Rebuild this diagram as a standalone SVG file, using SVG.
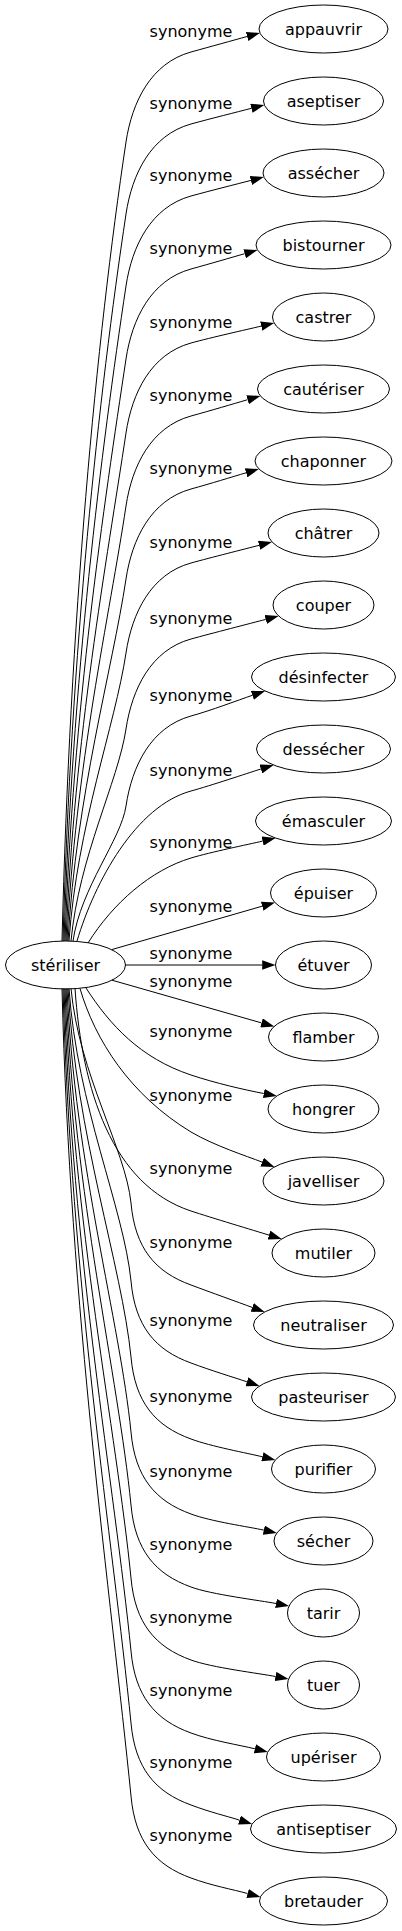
<svg xmlns="http://www.w3.org/2000/svg" width="402" height="1931" viewBox="0 0 402 1931">
<style>
text{font-family:"DejaVu Sans",sans-serif;font-size:16px;text-anchor:middle;fill:#000}
.node ellipse{fill:none;stroke:#000;stroke-width:1}
.edges path{fill:none;stroke:#000;stroke-width:1;marker-end:url(#ah)}
</style>
<defs>
<marker id="ah" viewBox="0 0 13.3 9.4" refX="0" refY="4.7" markerWidth="13.3" markerHeight="9.4" markerUnits="userSpaceOnUse" orient="auto"><path d="M0,0 L13.3,4.7 L0,9.4 Z" fill="#000"/></marker>
</defs>
<rect width="402" height="1931" fill="#fff"/>
<g class="edges" id="edges">
<path d="M62,941 C70,621.4 96,341.8 126,142 C132,102 151,63 191,52 C211,46.5 232.6,40.5 247.1,36.5"/>
<path d="M63,941 C71,650.2 98.7,395.8 126,214 C132,174 151,135 191,124 C211,118.5 236.9,112.1 251.4,108.3"/>
<path d="M64,941 C72,679 101.4,449.8 126,286 C132,246 151,207 191,196 C211,190.5 236.4,184.2 250.9,180.4"/>
<path d="M65,941 C73,708.2 104.2,504.5 126,359 C132,319 151,280 191,269 C211,263.5 230.3,257.8 244.7,253.7"/>
<path d="M66,941 C74,737.8 107,560 126,433 C132,393 151,354 191,343 C211,337.5 246.6,329.6 261.2,326.1"/>
<path d="M67,941 C75,767 109.7,614.8 126,506 C132,466 151,427 191,416 C211,410.5 233.2,403.9 247.6,399.7"/>
<path d="M68,941 C76,796.2 112.4,669.5 126,579 C132,539 151,500 191,489 C211,483.5 231.7,477 246.1,472.8"/>
<path d="M69,941 C77,825.8 115.2,725 126,653 C132,613 151,574 191,563 C211,557.5 244.6,549.1 259.1,545.3"/>
<path d="M71,941 C79,856.2 118,782 126,729 C132,689 151,650 191,639 C211,633.5 251.2,623.2 265.7,619.4"/>
<path d="M73,941 C81,887 121,839.8 126,806 C132,766 151,727 191,716 C211,710.5 238.2,700.1 252.4,695.3"/>
<path d="M77,941 C95,881 136,806 191,791 C211,785.5 246.6,773.5 260.9,769"/>
<path d="M88,943 C113,903 151,870 191,858 C211,852 248,844.5 262.6,841.1"/>
<path d="M112,949.5 L262.2,906.2"/>
<path d="M125.5,965 L262.2,965"/>
<path d="M112,980.2 L261.5,1022.9"/>
<path d="M86,988 C110,1025 140,1058 191,1075 C215,1083 245,1090 263.8,1093.5"/>
<path d="M80,988.5 C95,1040 130,1095 191,1132 C215,1146 246,1155.8 262.1,1162.1"/>
<path d="M75,988.5 C82,1090 112,1185 191,1211 C211,1217.6 254.7,1230.7 269,1235.1"/>
<path d="M71,988.5 C79,1074.3 125.6,1149.4 131,1203 C135,1248 155,1272 191,1285 C211,1292.5 238.1,1302.2 252.2,1307.4"/>
<path d="M69,988.5 C77,1105.5 123.7,1207.9 131,1281 C135,1326 155,1350 191,1363 C211,1370.5 232.7,1377 246.9,1381.8"/>
<path d="M68,988.5 C76,1135.9 121.8,1264.9 131,1357 C135,1402 155,1426 191,1439 C211,1446.5 247.9,1453.2 262.4,1456.8"/>
<path d="M67,988.5 C75,1165.9 119.9,1321.1 131,1432 C135,1477 155,1501 191,1514 C211,1521.5 249.2,1526.9 263.8,1530.1"/>
<path d="M66,988.5 C74,1195.1 118.1,1375.9 131,1505 C135,1550 155,1574 191,1587 C211,1594.5 261.3,1600.6 276,1603.5"/>
<path d="M65,988.5 C73,1224.3 116.3,1430.6 131,1578 C135,1623 155,1647 191,1660 C211,1667.5 260.8,1673.6 275.5,1676.5"/>
<path d="M64,988.5 C72,1253.5 114.4,1485.4 131,1651 C135,1696 155,1720 191,1733 C211,1740.5 240.3,1745.2 254.9,1748.8"/>
<path d="M63,988.5 C71,1282.3 112.6,1539.4 131,1723 C135,1768 155,1792 191,1805 C211,1812.5 225.1,1815.6 239.4,1820.1"/>
<path d="M62,988.5 C70,1311.5 110.8,1594.1 131,1796 C135,1841 155,1865 191,1878 C211,1885.5 233.1,1889.5 247.6,1893.5"/>
<text x="191" y="36.5">synonyme</text>
<text x="191" y="108.5">synonyme</text>
<text x="191" y="180.5">synonyme</text>
<text x="191" y="253.5">synonyme</text>
<text x="191" y="327.5">synonyme</text>
<text x="191" y="400.5">synonyme</text>
<text x="191" y="473.5">synonyme</text>
<text x="191" y="547.5">synonyme</text>
<text x="191" y="623.5">synonyme</text>
<text x="191" y="700.5">synonyme</text>
<text x="191" y="775.5">synonyme</text>
<text x="191" y="847.5">synonyme</text>
<text x="191" y="911.5">synonyme</text>
<text x="191" y="958.5">synonyme</text>
<text x="191" y="986.5">synonyme</text>
<text x="191" y="1036.5">synonyme</text>
<text x="191" y="1100.5">synonyme</text>
<text x="191" y="1173.5">synonyme</text>
<text x="191" y="1247.5">synonyme</text>
<text x="191" y="1325.5">synonyme</text>
<text x="191" y="1401.5">synonyme</text>
<text x="191" y="1476.5">synonyme</text>
<text x="191" y="1549.5">synonyme</text>
<text x="191" y="1622.5">synonyme</text>
<text x="191" y="1695.5">synonyme</text>
<text x="191" y="1767.5">synonyme</text>
<text x="191" y="1840.5">synonyme</text>
</g>
<g class="node" id="n-steriliser"><ellipse cx="65.5" cy="965" rx="60" ry="24"/><text x="65.5" y="970.5">stériliser</text></g>
<g class="node" id="n0"><ellipse cx="323.5" cy="29" rx="64.5" ry="24"/><text x="323.5" y="34.5">appauvrir</text></g>
<g class="node" id="n1"><ellipse cx="323.5" cy="101" rx="60" ry="24"/><text x="323.5" y="106.5">aseptiser</text></g>
<g class="node" id="n2"><ellipse cx="323.5" cy="173" rx="60.5" ry="24"/><text x="323.5" y="178.5">assécher</text></g>
<g class="node" id="n3"><ellipse cx="323.5" cy="245" rx="67.5" ry="24"/><text x="323.5" y="250.5">bistourner</text></g>
<g class="node" id="n4"><ellipse cx="323.5" cy="317" rx="51" ry="24"/><text x="323.5" y="322.5">castrer</text></g>
<g class="node" id="n5"><ellipse cx="323.5" cy="389" rx="66" ry="24"/><text x="323.5" y="394.5">cautériser</text></g>
<g class="node" id="n6"><ellipse cx="323.5" cy="461" rx="68.5" ry="24"/><text x="323.5" y="466.5">chaponner</text></g>
<g class="node" id="n7"><ellipse cx="323.5" cy="533" rx="55.5" ry="24"/><text x="323.5" y="538.5">châtrer</text></g>
<g class="node" id="n8"><ellipse cx="323.5" cy="605" rx="50.5" ry="24"/><text x="323.5" y="610.5">couper</text></g>
<g class="node" id="n9"><ellipse cx="323.5" cy="677" rx="72" ry="24"/><text x="323.5" y="682.5">désinfecter</text></g>
<g class="node" id="n10"><ellipse cx="323.5" cy="749" rx="67" ry="24"/><text x="323.5" y="754.5">dessécher</text></g>
<g class="node" id="n11"><ellipse cx="323.5" cy="821" rx="68" ry="24"/><text x="323.5" y="826.5">émasculer</text></g>
<g class="node" id="n12"><ellipse cx="323.5" cy="893" rx="53" ry="24"/><text x="323.5" y="898.5">épuiser</text></g>
<g class="node" id="n13"><ellipse cx="323.5" cy="965" rx="48" ry="24"/><text x="323.5" y="970.5">étuver</text></g>
<g class="node" id="n14"><ellipse cx="323.5" cy="1037" rx="55" ry="24"/><text x="323.5" y="1042.5">flamber</text></g>
<g class="node" id="n15"><ellipse cx="323.5" cy="1109" rx="55.5" ry="24"/><text x="323.5" y="1114.5">hongrer</text></g>
<g class="node" id="n16"><ellipse cx="323.5" cy="1181" rx="60.5" ry="24"/><text x="323.5" y="1186.5">javelliser</text></g>
<g class="node" id="n17"><ellipse cx="323.5" cy="1253" rx="51.5" ry="24"/><text x="323.5" y="1258.5">mutiler</text></g>
<g class="node" id="n18"><ellipse cx="323.5" cy="1325" rx="70" ry="24"/><text x="323.5" y="1330.5">neutraliser</text></g>
<g class="node" id="n19"><ellipse cx="323.5" cy="1397" rx="72" ry="24"/><text x="323.5" y="1402.5">pasteuriser</text></g>
<g class="node" id="n20"><ellipse cx="323.5" cy="1469" rx="52" ry="24"/><text x="323.5" y="1474.5">purifier</text></g>
<g class="node" id="n21"><ellipse cx="323.5" cy="1541" rx="49.5" ry="24"/><text x="323.5" y="1546.5">sécher</text></g>
<g class="node" id="n22"><ellipse cx="323.5" cy="1613" rx="36" ry="24"/><text x="323.5" y="1618.5">tarir</text></g>
<g class="node" id="n23"><ellipse cx="323.5" cy="1685" rx="36" ry="24"/><text x="323.5" y="1690.5">tuer</text></g>
<g class="node" id="n24"><ellipse cx="323.5" cy="1757" rx="57" ry="24"/><text x="323.5" y="1762.5">upériser</text></g>
<g class="node" id="n25"><ellipse cx="323.5" cy="1829" rx="73" ry="24"/><text x="323.5" y="1834.5">antiseptiser</text></g>
<g class="node" id="n26"><ellipse cx="323.5" cy="1901" rx="64" ry="24"/><text x="323.5" y="1906.5">bretauder</text></g>
</svg>
